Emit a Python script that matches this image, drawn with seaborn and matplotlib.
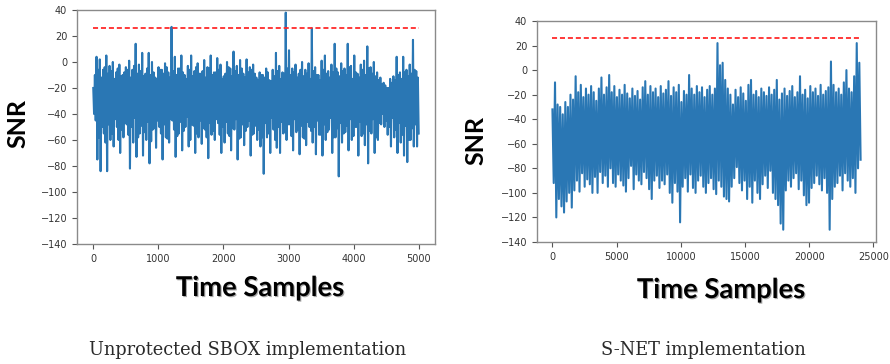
import numpy as np
import pandas as pd
import matplotlib
matplotlib.use("Agg")
import matplotlib.pyplot as plt
import matplotlib.patheffects as pe
import seaborn as sns

# ---------------- data ----------------
left_n_samples = 5000
right_n_samples = 24000
threshold = 26

# left panel: per 50-sample block, outer upper and lower extremes of the SNR trace
left_highs = [-20, 4, 2, -6, 5, -3, 0, -8, -2, -10, -4, 1, -6, 14, -2, 7, -9, 7, 0, -12,
              -4, -6, -1, -8, 27, 4, -5, 5, -10, -3, 5, -7, -1, -9, 1.5, -4, 5, -8, 3, -2,
              -11, 0, -5, 8, -3, 1.5, -9, 2, -4, -2, -12, -8, -10, -5, -14, -6, 7, -3, -8, 38,
              9, -5, -2, -9, 0, -6, -1, 26, -4, -10, 1, 5, -7, -2, 14, -8, -1, -5, 14, -3,
              5, -9, -2, 1, 12, -4, 0, -8, -12, -16, -20, -13, -11, 4, -8, 4, -6, -2, 17, -7]
left_lows = [-40, -75, -84, -55, -84, -60, -65, -50, -70, -58, -48, -82, -62, -73, -55, -72, -60, -78, -52, -66,
             -50, -75, -58, -62, -45, -73, -55, -68, -50, -65, -48, -70, -58, -63, -52, -74, -56, -60, -47, -70,
             -62, -55, -68, -52, -75, -58, -64, -50, -72, -55, -60, -65, -86, -58, -70, -52, -66, -70, -55, -60,
             -48, -68, -54, -71, -58, -64, -50, -62, -71, -56, -72, -60, -52, -70, -58, -88, -62, -54, -68, -60,
             -50, -72, -57, -64, -78, -55, -70, -60, -48, -50, -56, -65, -58, -70, -62, -72, -77, -60, -65, -65]
# left panel: the second swing inside each 50-sample block (the dense core of the band)
left_inner_highs = [-10, -6, -12, -4, -9, -7, -13, -5, -11, -8, -6, -12, -3, -9, -7, -11, -5, -10, -8, -13,
                    -6, -9, -4, -12, -7, -10, -5, -8, -13, -6, -11, -4, -9, -7, -12, -5, -10, -8, -6, -13,
                    -9, -4, -11, -7, -10, -5, -12, -8, -6, -9, -14, -10, -12, -8, -15, -11, -7, -13, -9, -5,
                    -10, -8, -12, -6, -11, -9, -13, -7, -10, -14, -6, -9, -12, -8, -5, -11, -7, -10, -4, -13,
                    -8, -12, -6, -10, -5, -9, -11, -14, -17, -18, -20, -16, -14, -10, -13, -8, -11, -9, -6, -12]
left_inner_lows = [-45, -58, -50, -62, -48, -55, -44, -60, -52, -47, -56, -50, -43, -58, -49, -54, -46, -61, -51, -45,
                   -55, -48, -59, -44, -52, -57, -46, -53, -42, -60, -49, -55, -45, -51, -58, -47, -53, -44, -56, -50,
                   -46, -57, -51, -44, -59, -48, -53, -45, -56, -49, -52, -58, -47, -55, -43, -60, -50, -46, -54, -48,
                   -57, -44, -52, -49, -59, -46, -53, -50, -45, -56, -48, -54, -43, -58, -51, -47, -55, -49, -44, -57,
                   -50, -46, -55, -48, -53, -44, -58, -47, -40, -45, -50, -43, -52, -47, -56, -49, -60, -51, -48, -55]

# right panel: per 200-sample block, upper and lower extremes
right_highs = [-32, -10, -28, -30, -36, -26, -30, -20, -24, -5, -18, -12, -22, -15, -20, -13, -18, -25, -15, -6,
               -20, -14, -4, -18, -13, -22, -16, -20, -12, -19, -23, -15, -21, -17, -24, -14, -9, -20, -13, -18,
               -15, -22, -13, -19, -16, -9, -21, -14, -18, -12, -26, -17, -20, -4, -15, -20, -13, -18, -14, -22,
               -16, -13, -20, -15, 22, 4, 6, -8, -15, -20, -28, -16, -22, -14, -19, -25, -12, -8, -20, -17,
               -22, -15, -18, -21, -14, -20, -16, -8, -24, -19, -15, -21, -17, -13, -22, -18, -5, -20, -16, -23,
               -13, -18, -15, -21, -12, -20, -17, -14, 7, -12, -18, -15, -20, -10, 0, -15, -18, -5, 22, 6]
right_lows = [-92, -120, -105, -111, -116, -107, -100, -112, -98, -90, -99, -84, -95, -89, -93, -100, -87, -100, -83, -92,
              -86, -95, -80, -92, -95, -85, -90, -94, -99, -88, -78, -97, -85, -90, -93, -83, -88, -97, -105, -90,
              -86, -96, -90, -93, -85, -100, -108, -92, -99, -124, -95, -88, -99, -85, -96, -100, -90, -86, -95, -100,
              -92, -88, -97, -101, -90, -95, -103, -105, -107, -95, -88, -79, -92, -98, -90, -105, -95, -108, -90, -100,
              -105, -93, -86, -96, -82, -100, -105, -110, -125, -130, -98, -90, -95, -88, -84, -97, -90, -102, -110, -108,
              -96, -92, -86, -93, -98, -88, -100, -130, -105, -95, -92, -86, -98, -84, -90, -95, -88, -100, -80, -73]

yticks = [-140, -120, -100, -80, -60, -40, -20, 0, 20, 40]
left_xticks = [0, 1000, 2000, 3000, 4000, 5000]
right_xticks = [0, 5000, 10000, 15000, 20000, 25000]
ylabel = "SNR"
xlabel = "Time Samples"
captions = ["Unprotected SBOX implementation", "S-NET implementation"]


def trace(n, *swings):
    """Chain the per-block swings (high, low, high, low, ...) in time order."""
    cols = np.column_stack([np.asarray(s, dtype=float) for s in swings])
    y = cols.ravel()
    x = np.linspace(0, n - 1, len(y))
    return pd.DataFrame({"sample": x, "snr": y})


fig = plt.figure(figsize=(8.9, 3.64), dpi=100)
ax1 = fig.add_axes([0.0865, 0.3297, 0.4023, 0.6429])
ax2 = fig.add_axes([0.6034, 0.3352, 0.3809, 0.6071])

panels = [
    (ax1, trace(left_n_samples, left_highs, left_lows, left_inner_highs, left_inner_lows),
     left_n_samples, left_xticks, (-250, 5250)),
    (ax2, trace(right_n_samples, right_highs, right_lows),
     right_n_samples, right_xticks, (-1200, 25200)),
]

for ax, df, n, xt, xl in panels:
    sns.lineplot(data=df, x="sample", y="snr", ax=ax, color="#2a77b4",
                 linewidth=1.5, estimator=None, sort=False)
    thr = pd.DataFrame({"sample": [0, n - 1], "snr": [threshold, threshold]})
    ax.plot(thr["sample"], thr["snr"], color="#ff2a2a", linewidth=1.3,
            linestyle=(0, (2.8, 1.6)))
    ax.set_ylim(-140, 40)
    ax.set_yticks(yticks)
    ax.set_xticks(xt)
    ax.set_xlim(*xl)
    ax.set_xlabel("")
    ax.set_ylabel("")
    for s in ax.spines.values():
        s.set_color("#8a8a8a")
        s.set_linewidth(1.0)
    ax.tick_params(labelsize=7, colors="#555555", labelcolor="#333333",
                   length=3.5, width=0.8)

shadow = [pe.withSimplePatchShadow(offset=(0.8, -0.8), shadow_rgbFace="#555555", alpha=0.5)]
lab_kw = dict(fontfamily="Lato", fontweight="bold", color="black", ha="center", va="center")
fig.text(0.020, 0.662, ylabel, rotation=90, fontsize=18, **lab_kw)
fig.text(0.5345, 0.615, ylabel, rotation=90, fontsize=18, **lab_kw)
fig.text(0.292, 0.2088, xlabel, fontsize=19.7, path_effects=shadow, **lab_kw)
fig.text(0.810, 0.2033, xlabel, fontsize=19.7, path_effects=shadow, **lab_kw)

cap_kw = dict(fontfamily="DejaVu Serif", fontsize=12.8, color="#2a2a2a", ha="center", va="center")
fig.text(0.2787, 0.0385, captions[0], **cap_kw)
fig.text(0.790, 0.0385, captions[1], **cap_kw)

fig.savefig("out.png", dpi=100)
